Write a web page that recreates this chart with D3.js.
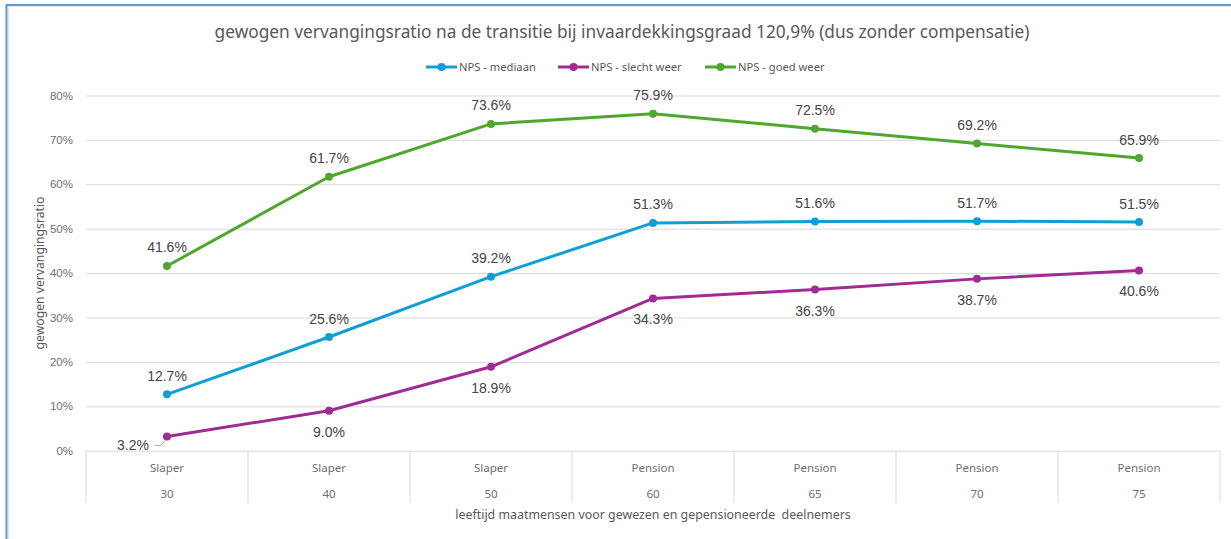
<!DOCTYPE html>
<html><head><meta charset="utf-8">
<script src="https://cdn.jsdelivr.net/npm/d3@7"></script>
<style>body{margin:0;background:#fff;}svg{display:block;}</style>
</head><body>
<svg id="c" width="1231" height="539"></svg>
<script>
const statusLabels = ["Slaper","Slaper","Slaper","Pension","Pension","Pension","Pension"];
const ageLabels = ["30","40","50","60","65","70","75"];
const mediaan = [12.7, 25.6, 39.2, 51.3, 51.6, 51.7, 51.5];
const slechtWeer = [3.2, 9.0, 18.9, 34.3, 36.3, 38.7, 40.6];
const goedWeer = [41.6, 61.7, 73.6, 75.9, 72.5, 69.2, 65.9];
const yTicks = [0,10,20,30,40,50,60,70,80];
const seriesNames = ["NPS - mediaan","NPS - slecht weer","NPS - goed weer"];
const titleText = "gewogen vervangingsratio na de transitie bij invaardekkingsgraad 120,9% (dus zonder compensatie)";
const xTitle = "leeftijd maatmensen voor gewezen en gepensioneerde  deelnemers";
const yTitle = "gewogen vervangingsratio";

const colors = ["#0F9ED5","#A02B93","#4EA72E"];
const svg = d3.select("#c");
const L = 86, R = 1220, T = 95.5, B = 450.7;
const idx = d3.range(statusLabels.length);
const x = d3.scaleBand().domain(idx).range([L,R]).paddingInner(0).paddingOuter(0);
const cx = i => x(i) + x.bandwidth()/2;
const y = d3.scaleLinear().domain([0,80]).range([B,T]);

// frame
svg.append("line").attr("x1",6.5).attr("x2",6.5).attr("y1",4).attr("y2",539).attr("stroke","#5B9BD5").attr("stroke-width",2);
svg.append("line").attr("x1",6).attr("x2",1231).attr("y1",5).attr("y2",5).attr("stroke","#5B9BD5").attr("stroke-width",2);
svg.append("line").attr("x1",8.5).attr("x2",8.5).attr("y1",6).attr("y2",539).attr("stroke","#e4e4e4").attr("stroke-width",1);
svg.append("line").attr("x1",8).attr("x2",1231).attr("y1",6.5).attr("y2",6.5).attr("stroke","#eaeaea").attr("stroke-width",1);

function fitText(sel, target){
  const w = sel.node().getComputedTextLength();
  const fs = parseFloat(sel.attr("font-size"));
  sel.attr("font-size", fs*target/w);
}

// title
const tt = svg.append("text").attr("x",622).attr("y",38).attr("text-anchor","middle")
  .attr("font-family","Noto Sans, sans-serif").attr("font-size",17).attr("fill","#595959").text(titleText);
fitText(tt, 815);

// gridlines
const yAxis = d3.axisLeft(y).tickValues(yTicks).tickSize(-(R-L)).tickFormat(d=>d+"%");
const ga = svg.append("g").attr("transform",`translate(${L},0)`).call(yAxis);
ga.select(".domain").remove();
ga.selectAll(".tick line").attr("stroke","#d9d9d9").attr("stroke-width",1);
ga.selectAll(".tick text").attr("x",-13).attr("fill","#6f6f6f").attr("font-family","Liberation Sans, Arial, sans-serif").attr("font-size",11.5);

// category table
const bounds = x.domain().map(i=>x(i)).concat([R]);
svg.append("g").selectAll("line").data(bounds).join("line")
  .attr("x1",d=>d).attr("x2",d=>d).attr("y1",B).attr("y2",502.5)
  .attr("stroke","#d9d9d9").attr("stroke-width",1);
svg.append("g").selectAll("text").data(idx).join("text")
  .attr("x",cx).attr("y",472).attr("text-anchor","middle")
  .attr("font-family","Noto Sans, sans-serif").attr("font-size",11.5).attr("fill","#6f6f6f")
  .text(i=>statusLabels[i]);
svg.append("g").selectAll("text").data(idx).join("text")
  .attr("x",cx).attr("y",498).attr("text-anchor","middle")
  .attr("font-family","Noto Sans, sans-serif").attr("font-size",11.5).attr("fill","#6f6f6f")
  .text(i=>ageLabels[i]);

// axis titles
const xt = svg.append("text").attr("x",653).attr("y",519).attr("text-anchor","middle")
  .attr("font-family","Noto Sans, sans-serif").attr("font-size",12).attr("fill","#595959")
  .attr("xml:space","preserve").text(xTitle);
fitText(xt, 396);
const yt = svg.append("text").attr("transform","translate(44,273) rotate(-90)").attr("text-anchor","middle")
  .attr("font-family","Noto Sans, sans-serif").attr("font-size",11).attr("fill","#595959").text(yTitle);
fitText(yt, 153);

// series
const series = [mediaan, slechtWeer, goedWeer];
const line = d3.line().x((d,i)=>cx(i)).y(d=>y(d));
series.forEach((s,k)=>{
  svg.append("path").datum(s).attr("d",line).attr("fill","none")
    .attr("stroke",colors[k]).attr("stroke-width",3).attr("stroke-linejoin","round").attr("stroke-linecap","round");
  svg.append("g").selectAll("circle").data(s).join("circle")
    .attr("cx",(d,i)=>cx(i)).attr("cy",d=>y(d)).attr("r",4).attr("fill",colors[k]);
});

// labels
const fmt = d=>d.toFixed(1)+"%";
function labels(s, dy, skip){
  svg.append("g").selectAll("text").data(s.map((v,i)=>({v,i})).filter(d=>!skip||!skip.includes(d.i))).join("text")
    .attr("x",d=>cx(d.i)).attr("y",d=>y(d.v)+dy).attr("text-anchor","middle")
    .attr("font-family","Liberation Sans, Arial, sans-serif").attr("font-size",14).attr("fill","#454545")
    .text(d=>fmt(d.v));
}
labels(goedWeer, -13.5);
labels(mediaan, -13.5);
labels(slechtWeer, 26, [0]);
// leader-labelled first point
const p0x = cx(0), p0y = y(slechtWeer[0]);
svg.append("text").attr("x",p0x-34).attr("y",p0y+14).attr("text-anchor","middle")
  .attr("font-family","Liberation Sans, Arial, sans-serif").attr("font-size",14).attr("fill","#454545")
  .text(fmt(slechtWeer[0]));
svg.append("polyline").attr("points",`${p0x-12},${p0y+9} ${p0x-6},${p0y+9} ${p0x-2},${p0y+4}`)
  .attr("fill","none").attr("stroke","#a6a6a6").attr("stroke-width",1);

// legend
const legX = [426, 558, 705];
seriesNames.forEach((n,k)=>{
  const g = svg.append("g").attr("transform",`translate(${legX[k]},67)`);
  g.append("line").attr("x1",0).attr("x2",31).attr("stroke",colors[k]).attr("stroke-width",3);
  g.append("circle").attr("cx",15.5).attr("r",4).attr("fill",colors[k]);
  g.append("text").attr("x",33).attr("y",4).attr("font-family","Noto Sans, sans-serif").attr("font-size",11.2).attr("fill","#595959").text(n);
});
</script>
</body></html>
